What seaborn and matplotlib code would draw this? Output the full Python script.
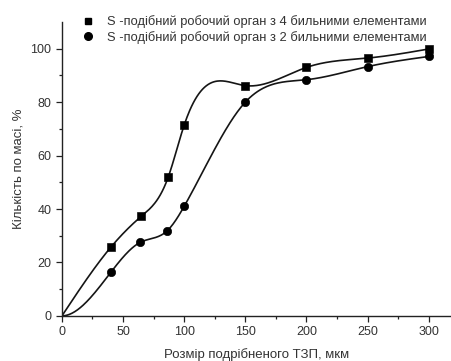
import numpy as np
import pandas as pd
import seaborn as sns
import matplotlib.pyplot as plt
from matplotlib.lines import Line2D

sns.set_style("ticks")
plt.rcParams["font.family"] = ["Liberation Sans", "DejaVu Sans"]

# розмір частинок, мкм
size_4 = [0, 40, 65, 87, 100, 150, 200, 250, 300]
mass_4 = [0, 25.7, 37.3, 52.0, 71.4, 86.2, 93.0, 96.5, 99.9]
size_2 = [0, 40, 64, 86, 100, 150, 200, 250, 300]
mass_2 = [0, 16.3, 27.5, 31.8, 41.0, 80.0, 88.4, 93.3, 97.1]

label_4 = "S -подібний робочий орган з 4 бильними елементами"
label_2 = "S -подібний робочий орган з 2 бильними елементами"


def spline(x, y, d0=None, n=400):
    # cubic spline; natural ends unless a start slope d0 is given
    x = np.asarray(x, float)
    y = np.asarray(y, float)
    k = len(x)
    h = np.diff(x)
    A = np.zeros((k, k))
    b = np.zeros(k)
    if d0 is None:
        A[0, 0] = 1
    else:
        A[0, 0], A[0, 1] = 2 * h[0], h[0]
        b[0] = 6 * ((y[1] - y[0]) / h[0] - d0)
    A[-1, -1] = 1
    for i in range(1, k - 1):
        A[i, i - 1] = h[i - 1]
        A[i, i] = 2 * (h[i - 1] + h[i])
        A[i, i + 1] = h[i]
        b[i] = 6 * ((y[i + 1] - y[i]) / h[i] - (y[i] - y[i - 1]) / h[i - 1])
    M = np.linalg.solve(A, b)
    xs = np.linspace(x[0], x[-1], n)
    idx = np.clip(np.searchsorted(x, xs) - 1, 0, k - 2)
    x0, x1 = x[idx], x[idx + 1]
    hh = x1 - x0
    t0, t1 = x1 - xs, xs - x0
    ys = (M[idx] * t0**3 + M[idx + 1] * t1**3) / (6 * hh) \
        + (y[idx] / hh - M[idx] * hh / 6) * t0 \
        + (y[idx + 1] / hh - M[idx + 1] * hh / 6) * t1
    return xs, ys


fig = plt.figure(figsize=(4.52, 3.61), dpi=100)
ax = fig.add_axes([0.137, 0.125, 0.86, 0.814])

for xs, ys, d0, mk, ms in [(size_4, mass_4, None, "s", 30),
                           (size_2, mass_2, 0.0, "o", 36)]:
    cx, cy = spline(xs, ys, d0)
    sns.lineplot(x=cx, y=cy, ax=ax, color="#151515", lw=1.2, sort=False)
    df = pd.DataFrame({"x": xs[1:], "y": ys[1:]})
    sns.scatterplot(data=df, x="x", y="y", ax=ax, marker=mk, s=ms,
                    color="black", edgecolor="black", zorder=3)

ax.set_xlim(0, 318)
ax.set_ylim(0, 110)
ax.set_xticks([0, 50, 100, 150, 200, 250, 300])
ax.set_xticks(np.arange(25, 318, 50), minor=True)
ax.set_yticks([0, 20, 40, 60, 80, 100])
ax.set_yticks(np.arange(10, 110, 20), minor=True)
ax.tick_params(which="major", length=4, width=0.9, labelsize=9,
               colors="#222222", labelcolor="#333333")
ax.tick_params(which="minor", length=2.5, width=0.9, colors="#222222")
for s in ["top", "right"]:
    ax.spines[s].set_visible(False)
for s in ["left", "bottom"]:
    ax.spines[s].set_linewidth(1.0)
    ax.spines[s].set_color("#222222")

ax.set_xlabel("Розмір подрібненого ТЗП, мкм", fontsize=9.5, color="#333333",
              labelpad=7)
ax.set_ylabel("Кількість по масі, %", fontsize=9.5, color="#333333")

handles = [Line2D([], [], ls="none", marker="s", ms=5, color="black"),
           Line2D([], [], ls="none", marker="o", ms=5.5, color="black")]
ax.legend(handles, [label_4, label_2], loc="upper right",
          bbox_to_anchor=(0.955, 1.045), frameon=False, fontsize=9.3,
          handletextpad=0.5, labelspacing=0.2, borderpad=0,
          labelcolor="#333333")

fig.savefig("out.png", dpi=100)
